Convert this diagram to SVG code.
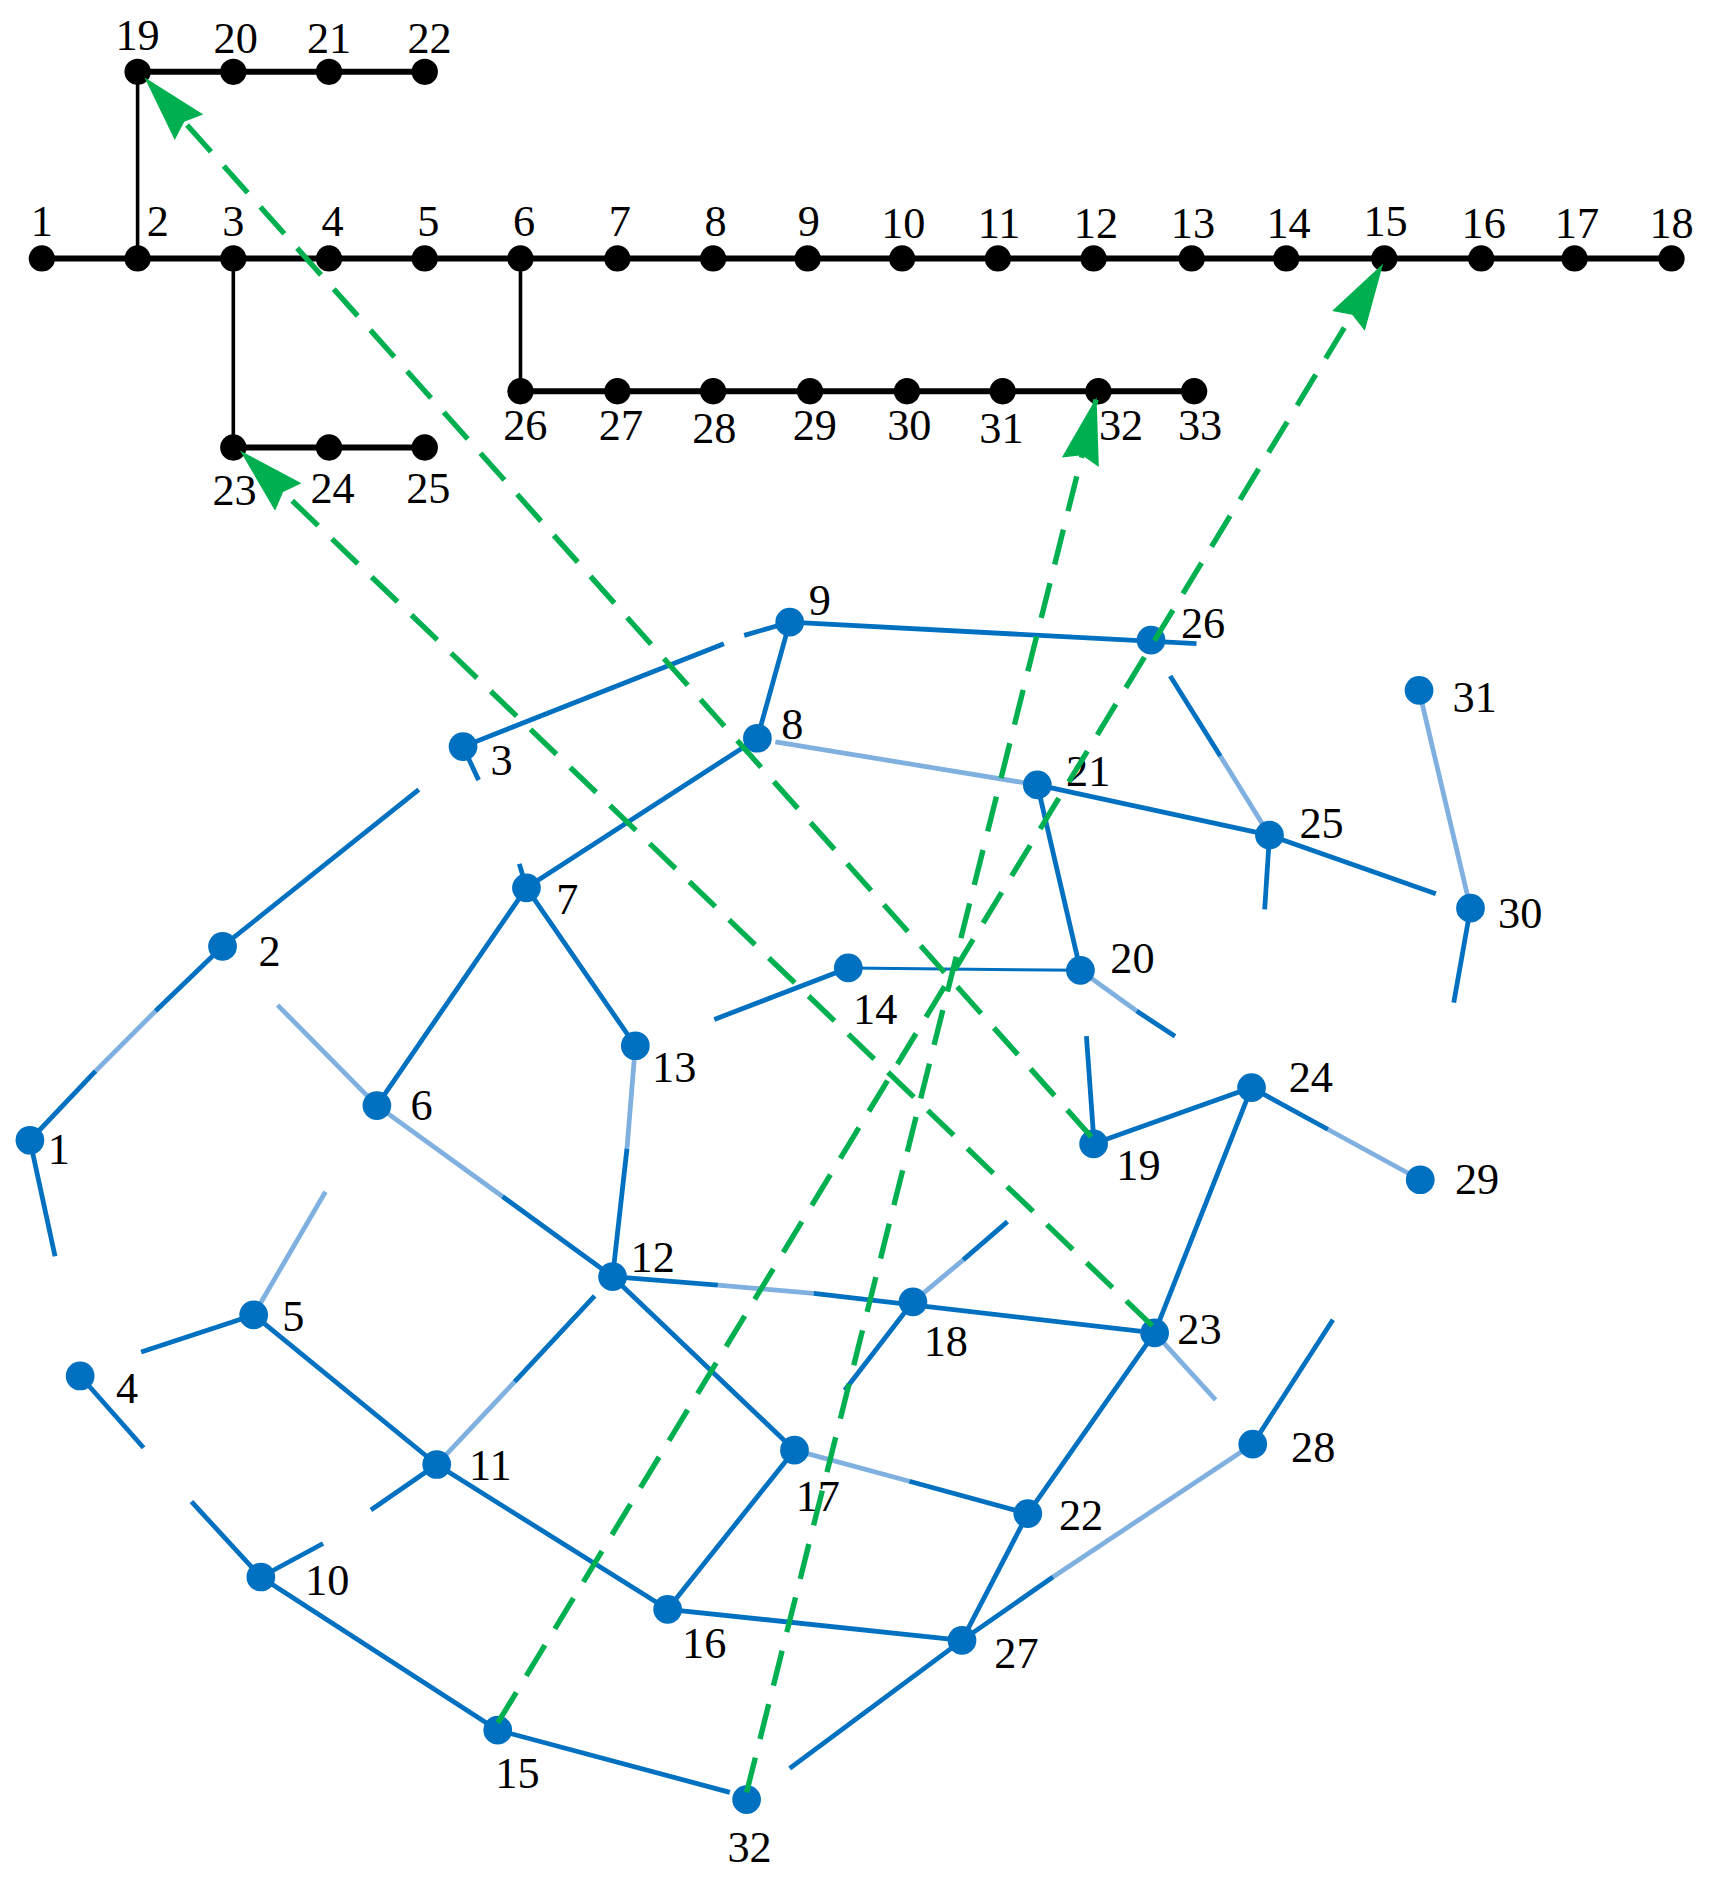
<svg xmlns="http://www.w3.org/2000/svg" width="1723" height="1891" viewBox="0 0 1723 1891">
<defs>
<marker id="ah" markerUnits="userSpaceOnUse" markerWidth="56" markerHeight="32" refX="54" refY="16" orient="auto" viewBox="0 0 56 32"><path d="M0,0 L56,16 L0,32 L6,16 Z" fill="#00b050"/></marker>
</defs>
<style>
text{font-family:"Liberation Serif","Times New Roman",serif;font-size:37px;fill:#000}
.blk line{stroke:#000;stroke-width:5}
.bn circle{fill:#000}
.bl line{stroke:#0070c0;stroke-width:4}
.bl line.lt{stroke:#7fb0e0;stroke-width:4}
.un circle{fill:#0070c0}
.gr line{stroke:#00b050;stroke-width:4.5;stroke-dasharray:30 16;marker-end:url(#ah)}
.mid{text-anchor:middle}
</style>
<rect width="1723" height="1891" fill="#fff"/>
<g transform="scale(1.1965)">
<g id="top-lines" class="blk">
<line x1="35" y1="216" x2="1397" y2="216"/>
<line x1="115" y1="60" x2="355" y2="60"/>
<line x1="435" y1="327" x2="998" y2="327"/>
<line x1="195" y1="374" x2="355" y2="374"/>
<line x1="115" y1="60" x2="115" y2="216" style="stroke-width:3"/>
<line x1="195" y1="216" x2="195" y2="374" style="stroke-width:3"/>
<line x1="435" y1="216" x2="435" y2="327" style="stroke-width:3"/>
</g>
<g id="top-nodes" class="bn">
<circle cx="35" cy="216" r="11"/><circle cx="115" cy="216" r="11"/><circle cx="195" cy="216" r="11"/><circle cx="275" cy="216" r="11"/><circle cx="355" cy="216" r="11"/><circle cx="435" cy="216" r="11"/><circle cx="516" cy="216" r="11"/><circle cx="596" cy="216" r="11"/><circle cx="675" cy="216" r="11"/><circle cx="754" cy="216" r="11"/><circle cx="834" cy="216" r="11"/><circle cx="914" cy="216" r="11"/><circle cx="996" cy="216" r="11"/><circle cx="1075" cy="216" r="11"/><circle cx="1157" cy="216" r="11"/><circle cx="1238" cy="216" r="11"/><circle cx="1316" cy="216" r="11"/><circle cx="1397" cy="216" r="11"/>
<circle cx="115" cy="60" r="11"/><circle cx="195" cy="60" r="11"/><circle cx="275" cy="60" r="11"/><circle cx="355" cy="60" r="11"/>
<circle cx="435" cy="327" r="11"/><circle cx="516" cy="327" r="11"/><circle cx="596" cy="327" r="11"/><circle cx="677" cy="327" r="11"/><circle cx="758" cy="327" r="11"/><circle cx="838" cy="327" r="11"/><circle cx="918" cy="327" r="11"/><circle cx="998" cy="327" r="11"/>
<circle cx="195" cy="374" r="11"/><circle cx="275" cy="374" r="11"/><circle cx="355" cy="374" r="11"/>
</g>
<g id="top-labels" class="mid">
<text x="35" y="197">1</text><text x="132" y="197">2</text><text x="195" y="197">3</text><text x="278" y="197">4</text><text x="358" y="197">5</text><text x="438" y="197">6</text><text x="518" y="197">7</text><text x="598" y="197">8</text><text x="676" y="197">9</text><text x="755" y="199">10</text><text x="835" y="199">11</text><text x="916" y="199">12</text><text x="997" y="199">13</text><text x="1077" y="199">14</text><text x="1158" y="197">15</text><text x="1240" y="199">16</text><text x="1318" y="199">17</text><text x="1397" y="199">18</text>
<text x="115" y="42">19</text><text x="197" y="44">20</text><text x="275" y="44">21</text><text x="359" y="44">22</text>
<text x="439" y="368">26</text><text x="519" y="368">27</text><text x="597" y="370">28</text><text x="681" y="368">29</text><text x="760" y="368">30</text><text x="837" y="370">31</text><text x="937" y="368">32</text><text x="1003" y="368">33</text>
<text x="196" y="422">23</text><text x="278" y="420">24</text><text x="358" y="420">25</text>
</g>
<g id="blue-lines" class="bl">
<line x1="387" y1="624" x2="605" y2="538"/><line x1="622" y1="531" x2="660" y2="520"/>
<line x1="660" y1="520" x2="633" y2="617"/>
<line x1="660" y1="520" x2="1000" y2="538"/>
<line x1="387" y1="624" x2="400" y2="652"/>
<line x1="186" y1="791" x2="350" y2="660"/>
<line x1="25" y1="953" x2="80" y2="895"/><line class="lt" x1="80" y1="895" x2="130" y2="845"/><line x1="130" y1="845" x2="186" y2="791"/>
<line x1="25" y1="953" x2="46" y2="1050"/>
<line class="lt" x1="232" y1="840" x2="315" y2="924"/>
<line x1="315" y1="924" x2="440" y2="742"/>
<line x1="440" y1="742" x2="633" y2="617"/>
<line x1="434" y1="722" x2="440" y2="742"/>
<line x1="440" y1="742" x2="531" y2="874"/>
<line class="lt" x1="531" y1="874" x2="524" y2="960"/><line x1="524" y1="960" x2="512" y2="1067"/>
<line class="lt" x1="315" y1="924" x2="420" y2="1000"/><line x1="420" y1="1000" x2="512" y2="1067"/>
<line class="lt" x1="648" y1="620" x2="867" y2="656"/>
<line x1="867" y1="656" x2="1061" y2="698"/><line x1="1061" y1="698" x2="1200" y2="747"/>
<line x1="867" y1="656" x2="903" y2="811"/>
<line x1="978" y1="565" x2="1020" y2="632"/><line class="lt" x1="1020" y1="632" x2="1061" y2="698"/>
<line x1="1061" y1="698" x2="1057" y2="760"/>
<line class="lt" x1="1186" y1="577" x2="1229" y2="759"/>
<line x1="1229" y1="759" x2="1215" y2="838"/>
<line x1="709" y1="809" x2="903" y2="811" style="stroke-width:2.5"/>
<line x1="709" y1="809" x2="597" y2="852"/>
<line class="lt" x1="903" y1="811" x2="950" y2="845"/><line x1="950" y1="845" x2="982" y2="866"/>
<line x1="908" y1="866" x2="914" y2="950"/>
<line x1="914" y1="956" x2="1046" y2="909"/>
<line x1="1046" y1="909" x2="1110" y2="944"/><line class="lt" x1="1110" y1="944" x2="1187" y2="986"/>
<line x1="1046" y1="909" x2="965" y2="1114"/>
<line x1="512" y1="1067" x2="600" y2="1074"/><line class="lt" x1="600" y1="1074" x2="680" y2="1081"/><line x1="680" y1="1081" x2="965" y2="1114"/>
<line class="lt" x1="763" y1="1088" x2="805" y2="1053"/><line x1="805" y1="1053" x2="842" y2="1021"/>
<line x1="763" y1="1088" x2="706" y2="1162"/>
<line class="lt" x1="965" y1="1114" x2="1016" y2="1170"/>
<line x1="965" y1="1114" x2="859" y2="1265"/>
<line x1="859" y1="1265" x2="804" y2="1371"/>
<line x1="1047" y1="1207" x2="1114" y2="1103"/>
<line class="lt" x1="1047" y1="1207" x2="880" y2="1318"/><line x1="880" y1="1318" x2="804" y2="1371"/>
<line x1="804" y1="1371" x2="660" y2="1478"/>
<line x1="558" y1="1345" x2="804" y2="1371"/>
<line x1="664" y1="1212" x2="558" y2="1345"/>
<line class="lt" x1="664" y1="1212" x2="760" y2="1238"/><line x1="760" y1="1238" x2="859" y2="1265"/>
<line x1="512" y1="1067" x2="664" y2="1212"/>
<line x1="497" y1="1083" x2="430" y2="1155"/><line class="lt" x1="430" y1="1155" x2="365" y2="1224"/>
<line x1="365" y1="1224" x2="212" y2="1099"/>
<line x1="365" y1="1224" x2="310" y2="1262"/>
<line x1="365" y1="1224" x2="558" y2="1345"/>
<line x1="212" y1="1099" x2="118" y2="1130"/>
<line class="lt" x1="212" y1="1099" x2="272" y2="996"/>
<line x1="67" y1="1150" x2="120" y2="1210"/><line x1="160" y1="1255" x2="218" y2="1318"/>
<line x1="218" y1="1318" x2="270" y2="1290"/>
<line x1="218" y1="1318" x2="416" y2="1446"/>
<line x1="416" y1="1446" x2="610" y2="1498"/>
</g>
<g id="blue-nodes" class="un">
<circle cx="25" cy="953" r="12"/><circle cx="186" cy="791" r="12"/><circle cx="387" cy="624" r="12"/><circle cx="67" cy="1150" r="12"/><circle cx="212" cy="1099" r="12"/><circle cx="315" cy="924" r="12"/><circle cx="440" cy="742" r="12"/><circle cx="633" cy="617" r="12"/><circle cx="660" cy="520" r="12"/><circle cx="218" cy="1318" r="12"/><circle cx="365" cy="1224" r="12"/><circle cx="512" cy="1067" r="12"/><circle cx="531" cy="874" r="12"/><circle cx="709" cy="809" r="12"/><circle cx="416" cy="1446" r="12"/><circle cx="558" cy="1345" r="12"/><circle cx="664" cy="1212" r="12"/><circle cx="763" cy="1088" r="12"/><circle cx="914" cy="956" r="12"/><circle cx="903" cy="811" r="12"/><circle cx="867" cy="656" r="12"/><circle cx="859" cy="1265" r="12"/><circle cx="965" cy="1114" r="12"/><circle cx="1046" cy="909" r="12"/><circle cx="1061" cy="698" r="12"/><circle cx="962" cy="535" r="12"/><circle cx="804" cy="1371" r="12"/><circle cx="1047" cy="1207" r="12"/><circle cx="1187" cy="986" r="12"/><circle cx="1229" cy="759" r="12"/><circle cx="1186" cy="577" r="12"/><circle cx="624" cy="1504" r="12"/>
</g>
<g id="blue-labels">
<text x="40" y="973">1</text><text x="216" y="807">2</text><text x="410" y="648">3</text><text x="97" y="1173">4</text><text x="236" y="1112">5</text><text x="343" y="936">6</text><text x="465" y="764">7</text><text x="653" y="618">8</text><text x="676" y="514">9</text><text x="255" y="1333">10</text><text x="392" y="1237">11</text><text x="527" y="1063">12</text><text x="545" y="904">13</text><text x="713" y="856">14</text><text x="414" y="1494">15</text><text x="570" y="1386">16</text><text x="665" y="1263">17</text><text x="772" y="1133">18</text><text x="933" y="986">19</text><text x="928" y="813">20</text><text x="891" y="657">21</text><text x="885" y="1279">22</text><text x="984" y="1123">23</text><text x="1077" y="913">24</text><text x="1086" y="700">25</text><text x="987" y="533">26</text><text x="831" y="1394">27</text><text x="1079" y="1222">28</text><text x="1216" y="998">29</text><text x="1252" y="776">30</text><text x="1214" y="595">31</text><text x="608" y="1556">32</text>
</g>
<g id="connectors" class="gr">
<line x1="912" y1="950" x2="122" y2="66"/>
<line x1="963" y1="1108" x2="202" y2="378"/>
<line x1="416" y1="1440" x2="1155" y2="222"/>
<line x1="624" y1="1498" x2="916" y2="334"/>
</g>
</g>
</svg>
